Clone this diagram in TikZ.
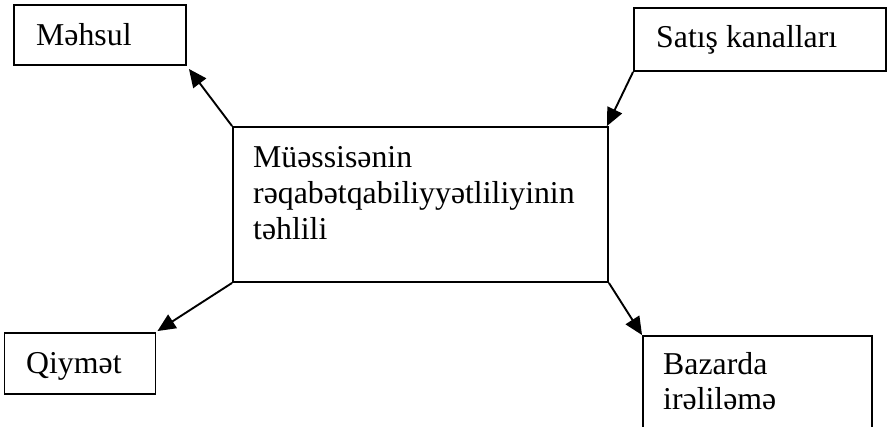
\documentclass[tikz,border=0pt]{standalone}
\usepackage{fontspec}
\setmainfont{Liberation Serif}
\usetikzlibrary{arrows.meta}
\begin{document}
\begin{tikzpicture}[x=1pt,y=-1pt,
  box/.style={draw=black,line width=1.9pt,inner sep=0pt,minimum width=#1},
  lbl/.style={anchor=base west,inner sep=0pt,font=\fontsize{31.8}{36}\selectfont},
  conn/.style={line width=1.9pt,-{Triangle[length=18pt,width=16pt]}}]
\path[use as bounding box,clip] (0,0) rectangle (889,426);
\fill[white] (0,0) rectangle (889,426);
% boxes
\node[box=172pt,minimum height=60pt] (m) at (100,35) {};
\node[box=252pt,minimum height=63pt] (s) at (760,39.5) {};
\node[box=375pt,minimum height=155pt] (c) at (420.5,204.5) {};
\node[box=151pt,minimum height=61pt] (q) at (80,363.5) {};
\node[box=229pt,minimum height=120pt] (b) at (757.5,396) {};
% texts
\node[lbl] (mt) at (36,45) {Məhsul};
\node[lbl] (st) at (656,47) {Satış kanalları};
\node[lbl] (ct1) at (253,167) {Müəssisənin};
\node[lbl] (ct2) at (253,203) {rəqabətqabiliyyətliliyinin};
\node[lbl] (ct3) at (253,239) {təhlili};
\node[lbl] (qt) at (26,373) {Qiymət};
\node[lbl] (bt1) at (663,374) {Bazarda};
\node[lbl] (bt2) at (663,409) {irəliləmə};
% connectors
\draw[conn] (c.north west) -- ([shift={(2,3)}]m.south east);
\draw[conn] (s.south west) -- ([shift={(-2,0)}]c.north east);
\draw[conn] (c.south west) -- ([shift={(1,-1)}]q.north east);
\draw[conn] (c.south east) -- (b.north west);
\end{tikzpicture}
\end{document}
